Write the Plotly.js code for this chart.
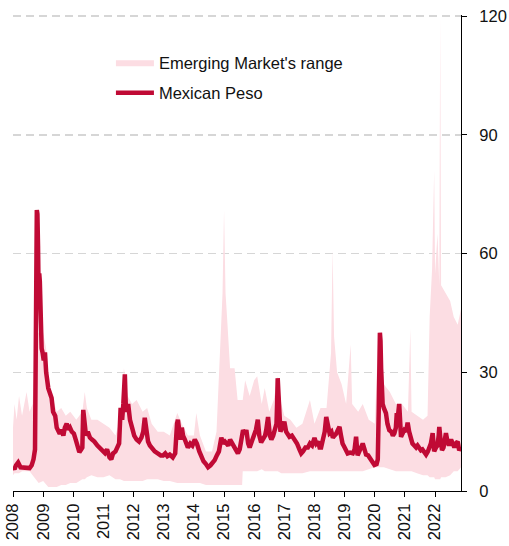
<!DOCTYPE html>
<html>
<head>
<meta charset="utf-8">
<script src="https://cdn.plot.ly/plotly-3.0.1.min.js"></script>
<style>html,body{margin:0;padding:0;background:#fff;}#chart{width:509px;height:546px;}</style>
</head>
<body>
<div id="chart"></div>
<script>
// ---- data ----
const yearTicks = [2008,2009,2010,2011,2012,2013,2014,2015,2016,2017,2018,2019,2020,2021,2022];
const yearLabels = ["2008","2009","2010","2011","2012","2013","2014","2015","2016","2017","2018","2019","2020","2021","2022"];
const valueTicks = [0,30,60,90,120];

// Emerging Market's range (decimal year, upper bound, lower bound)
const emYear = [2008.00,2008.05,2008.12,2008.20,2008.30,2008.45,2008.55,2008.65,2008.75,2008.85,2009.00,2009.10,2009.17,2009.30,2009.45,2009.60,2009.75,2009.90,2010.10,2010.30,2010.38,2010.45,2010.60,2010.80,2011.00,2011.20,2011.40,2011.55,2011.68,2011.80,2011.95,2012.10,2012.30,2012.45,2012.60,2012.80,2013.00,2013.20,2013.45,2013.60,2013.80,2014.00,2014.08,2014.20,2014.40,2014.60,2014.75,2014.85,2014.95,2015.00,2015.05,2015.10,2015.20,2015.35,2015.45,2015.60,2015.62,2015.70,2015.85,2016.00,2016.10,2016.25,2016.35,2016.50,2016.65,2016.78,2016.90,2017.00,2017.20,2017.40,2017.60,2017.85,2018.00,2018.20,2018.40,2018.55,2018.60,2018.65,2018.75,2018.90,2019.05,2019.20,2019.25,2019.45,2019.60,2019.80,2020.00,2020.12,2020.20,2020.30,2020.50,2020.70,2020.90,2021.10,2021.18,2021.22,2021.40,2021.60,2021.75,2021.82,2021.90,2021.97,2022.00,2022.08,2022.14,2022.17,2022.20,2022.35,2022.50,2022.62,2022.75,2022.86];
const emHigh = [16,22,18,24,19,25,20,22,40,40,40,36,27,24,20,21,19,20,18,20,25,21,18,18,17,16,14,18,31,24,22,23,20,21,17,15,15,14,19.7,17,14,14,19.7,14,10,10,15,33,50,71,50,44,31,31,23,23,23,28,24,28,29,22,26,20,23,29,22,19,18,16,17,23,17,21,21,35,61,39,30,27,22,37,22,20,22,18,17,40,40,27,25,22,22,20,41,20,19,18,19,44,56,81,55,65,52,120,52,50,48,44,42,46];
const emLow = [4,4.5,4.5,4.5,5,5,5,4,3,2,2.5,1.5,1,1,1,1.5,1.5,2,2,3,3,3.5,4,3.5,3.5,4,3,3,2.5,2.5,2.5,2.5,2.5,3,3,3,2.5,2.5,2,2,2,2,2,2,1.5,1.5,1.5,1.5,1.5,1.5,1.5,1.5,1.5,1.5,1.5,1.5,5,5,5,5,5,5.5,5,5,5,5,4.5,4.5,4.5,4.5,4.5,5,5,5,5,5,5,5,5,5,5,5,5,5,5,5.5,6,6,6,6,5.5,5,5,5,5,5,4.5,4,4,3.5,3.5,3.5,3,3,3,3,3.5,3.5,4,5,5,6];

// Mexican Peso (decimal year, value)
const pesoYear = [2008.00,2008.05,2008.10,2008.17,2008.25,2008.35,2008.46,2008.55,2008.62,2008.68,2008.73,2008.75,2008.77,2008.79,2008.81,2008.83,2008.85,2008.87,2008.89,2008.92,2008.95,2008.98,2009.02,2009.06,2009.10,2009.17,2009.22,2009.28,2009.33,2009.40,2009.45,2009.50,2009.55,2009.61,2009.67,2009.72,2009.78,2009.84,2009.89,2009.95,2010.02,2010.08,2010.14,2010.20,2010.26,2010.30,2010.33,2010.37,2010.42,2010.48,2010.55,2010.62,2010.70,2010.80,2010.90,2011.00,2011.05,2011.12,2011.20,2011.26,2011.32,2011.40,2011.46,2011.52,2011.57,2011.62,2011.66,2011.71,2011.74,2011.78,2011.82,2011.88,2011.95,2012.02,2012.10,2012.18,2012.26,2012.32,2012.37,2012.42,2012.48,2012.54,2012.62,2012.70,2012.80,2012.90,2012.98,2013.05,2013.12,2013.20,2013.30,2013.38,2013.44,2013.47,2013.52,2013.56,2013.60,2013.64,2013.70,2013.80,2013.88,2013.95,2014.03,2014.10,2014.18,2014.25,2014.32,2014.40,2014.47,2014.55,2014.62,2014.69,2014.76,2014.83,2014.91,2014.97,2015.03,2015.08,2015.14,2015.20,2015.24,2015.32,2015.40,2015.46,2015.52,2015.58,2015.63,2015.70,2015.74,2015.80,2015.85,2015.92,2016.01,2016.06,2016.12,2016.17,2016.23,2016.30,2016.36,2016.40,2016.46,2016.52,2016.57,2016.63,2016.68,2016.74,2016.76,2016.78,2016.81,2016.84,2016.87,2016.93,2017.00,2017.06,2017.12,2017.17,2017.25,2017.34,2017.42,2017.50,2017.56,2017.62,2017.70,2017.78,2017.85,2017.92,2018.00,2018.06,2018.12,2018.17,2018.22,2018.28,2018.34,2018.39,2018.44,2018.50,2018.56,2018.61,2018.66,2018.72,2018.78,2018.83,2018.88,2018.93,2019.00,2019.05,2019.10,2019.18,2019.27,2019.33,2019.38,2019.43,2019.50,2019.56,2019.60,2019.66,2019.71,2019.78,2019.83,2019.88,2019.94,2019.99,2020.06,2020.10,2020.13,2020.15,2020.17,2020.19,2020.21,2020.23,2020.26,2020.30,2020.37,2020.42,2020.48,2020.55,2020.60,2020.65,2020.70,2020.73,2020.77,2020.81,2020.84,2020.87,2020.92,2020.98,2021.04,2021.09,2021.14,2021.20,2021.25,2021.31,2021.37,2021.42,2021.48,2021.53,2021.58,2021.64,2021.70,2021.76,2021.82,2021.86,2021.92,2021.97,2022.03,2022.08,2022.12,2022.14,2022.18,2022.23,2022.28,2022.32,2022.36,2022.40,2022.46,2022.53,2022.58,2022.64,2022.69,2022.75,2022.80,2022.86];
const pesoVal = [6,5.5,6.5,7.2,6,6,6,5.8,6.5,8,10.5,30,60,71,70,62,50,55,53,40,36,35,33,35,30,26,25,23.5,20,19,16,15,14.5,15.5,14,16,17,15.5,16,15,14.5,13,11,9.8,10.5,11,20.5,17,14,15,13.5,13,12.5,11.5,10.8,10.2,9.6,10.5,8.5,8,9.5,10,11,12,21,18,22,29.5,22,20,22,18,16,14,13,12.5,13.5,15,18.5,15,12.5,11.5,10.5,10,9.5,9,9,9.5,8.8,9.2,8.5,9.5,17,18,15,13,16,14,13,11,12,11.5,13,12,10,8.7,7.5,6.8,6,6.5,7,7.8,9,10,13.5,12,12.5,12,11.5,13,12.5,11,10.5,9.5,10.5,13,15.4,14.5,15.4,12,11,12.5,14.6,15.5,18,14,12.3,13,14,15.4,18.7,14,13,14,15.4,17,22,28.5,24,18,15,16,17.5,15,14.5,13.7,14,13,12,10.5,9.5,10,11,11,12,11.5,13.4,12,12.5,11,11,13,15,18.7,16,14.6,15,13.5,14,14.5,15.5,16.2,14,12,11,10,9.5,9.7,9.5,10.5,13.7,9,10,11,12,10.5,9.2,9,8.5,7.8,7,6.6,6.8,8,20,35,40,38,31,26,22,21,19.7,17,15.4,15,14,14.6,16,19.7,19,22,17,13.7,14.5,15.4,15,17.3,15,13,12,11.5,11,11.5,10.5,10.3,10.5,10,9.2,10,11,12,14.6,10,11,11.5,14,16.2,13,10.3,11,12.5,14.6,13,11.5,13,12,11,12,12.5,10.3,11];

// ---- chart ----
const pink = '#fcdde3';
const red = '#c00a35';
const fontFam = '"Liberation Sans", Arial, sans-serif';

const traces = [
  {x: emYear, y: emLow, type: 'scatter', mode: 'lines', line: {width: 0, color: pink}, showlegend: false, hoverinfo: 'skip'},
  {x: emYear, y: emHigh, type: 'scatter', mode: 'lines', line: {width: 0, color: pink}, fill: 'tonexty', fillcolor: pink,
   name: "Emerging Market's range", legendgroup: 'a'},
  {x: pesoYear, y: pesoVal, type: 'scatter', mode: 'lines', line: {width: 4.5, color: red}, name: 'Mexican Peso', legendgroup: 'b'}
];

const layout = {
  width: 509, height: 546,
  margin: {l: 13, r: 48, t: 15, b: 55, pad: 0},
  paper_bgcolor: '#fff', plot_bgcolor: '#fff',
  font: {family: fontFam, size: 16.5, color: '#111'},
  showlegend: true,
  legend: {x: 0.2186, y: 0.937, xanchor: 'left', yanchor: 'top', bgcolor: 'rgba(0,0,0,0)',
           font: {family: fontFam, size: 16.5, color: '#111'}, itemwidth: 38,
           traceorder: 'grouped', tracegroupgap: 6},
  xaxis: {range: [2008, 2022.86], tickvals: yearTicks, ticktext: yearLabels, tickangle: -90,
          ticks: 'outside', ticklen: 5, tickcolor: '#000', showline: true, linecolor: '#000', linewidth: 1,
          showgrid: false, zeroline: false, tickfont: {family: fontFam, size: 16.5, color: '#111'}},
  yaxis: {side: 'right', range: [0, 120.3], tickvals: valueTicks, ticks: 'outside', ticklen: 5, tickcolor: '#000',
          showline: true, linecolor: '#000', linewidth: 1, showgrid: true, gridcolor: '#d6d6d6', gridwidth: 1.5,
          griddash: '8px,5px', zeroline: false, ticklabelstandoff: 9,
          tickfont: {family: fontFam, size: 16.5, color: '#111'}}
};

Plotly.newPlot('chart', traces, layout, {displayModeBar: false, staticPlot: true});
</script>
</body>
</html>
